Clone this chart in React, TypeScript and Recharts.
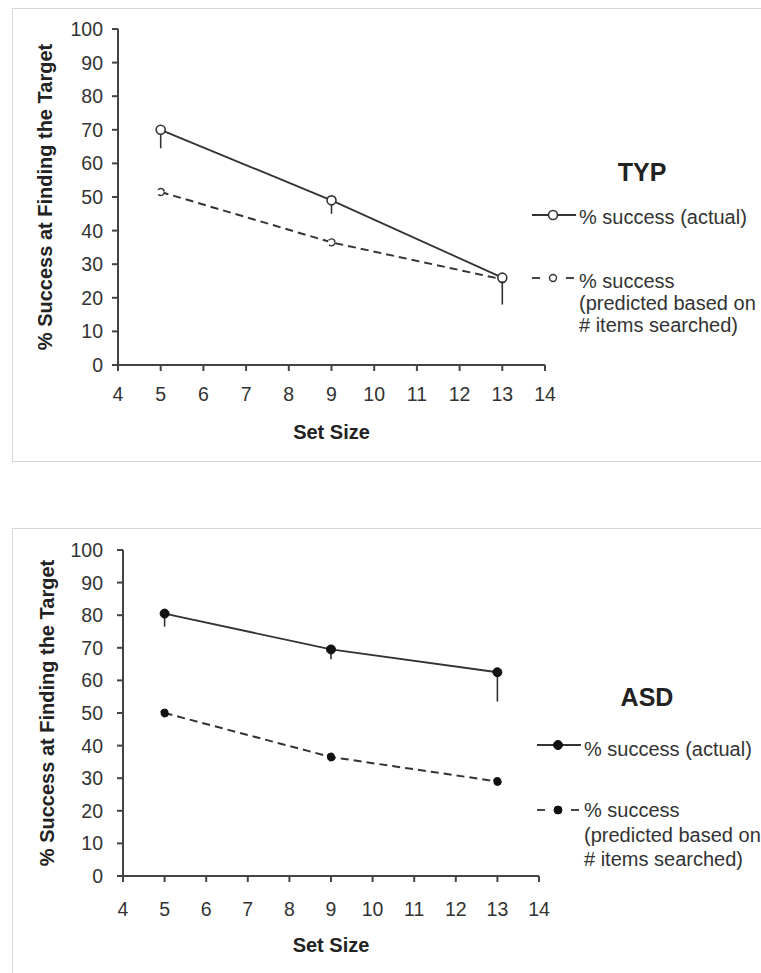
import React from "react";
import { LineChart, Line, XAxis, YAxis, ErrorBar, Legend, Label } from "recharts";

const setSizes = [5, 9, 13];
const xTicks = [4, 5, 6, 7, 8, 9, 10, 11, 12, 13, 14];
const yTicks = [0, 10, 20, 30, 40, 50, 60, 70, 80, 90, 100];

const typActual = [70, 49, 26];
const typActualErr = [5.5, 4, 8];
const typPredicted = [51.5, 36.5, 25.5];

const asdActual = [80.5, 69.5, 62.5];
const asdActualErr = [4, 3, 9];
const asdPredicted = [50, 36.5, 29];

const yLabel = "% Success at Finding the Target";
const xLabel = "Set Size";
const legendActual = "% success (actual)";
const legendPredicted = ["% success", "(predicted based on", "# items searched)"];

const INK = "#333";
const AXIS = "#444";

interface PanelLayout {
  boxTop: number;
  boxHeight: number;
  chartHeight: number;
  yAxisWidth: number;
  margin: { top: number; right: number; bottom: number; left: number };
  xTickMargin: number;
  yTickMargin: number;
  xLabelOffset: number;
  yLabelX: number;
  legendLeft: number;
  legendTop: number;
  legendRows: { line1: number; text1: number; line2: number; text2: number[] };
}

interface PanelProps {
  title: string;
  actual: number[];
  actualErr: number[];
  predicted: number[];
  filled: boolean;
  layout: PanelLayout;
}

const Panel = ({ title, actual, actualErr, predicted, filled, layout }: PanelProps) => {
  const data = setSizes.map((x, i) => ({
    x,
    actual: actual[i],
    actualErr: [actualErr[i], 0],
    predicted: predicted[i],
  }));

  const dotActual = filled
    ? { r: 4.5, fill: "#111", stroke: "#111", strokeWidth: 1 }
    : { r: 4.5, fill: "#fff", stroke: INK, strokeWidth: 1.6 };
  const dotPredicted = filled
    ? { r: 4, fill: "#111", stroke: "#111", strokeWidth: 1 }
    : { r: 3.5, fill: "#fff", stroke: INK, strokeWidth: 1.4 };

  const rows = layout.legendRows;

  const renderLegend = () => (
    <svg width={240} height={200} style={{ overflow: "visible" }}>
      <text x={114} y={31} textAnchor="middle" fontSize={25} fontWeight="bold" fill="#222">
        {title}
      </text>
      <line x1={4} x2={48} y1={rows.line1} y2={rows.line1} stroke={INK} strokeWidth={1.8} />
      <circle cx={25} cy={rows.line1} {...dotActual} />
      <text x={51} y={rows.text1} fontSize={20} fill={INK}>
        {legendActual}
      </text>
      <line x1={4} x2={12} y1={rows.line2} y2={rows.line2} stroke={INK} strokeWidth={1.8} />
      <line x1={38} x2={46} y1={rows.line2} y2={rows.line2} stroke={INK} strokeWidth={1.8} />
      <circle cx={25} cy={rows.line2} {...dotPredicted} />
      {legendPredicted.map((t, i) => (
        <text key={t} x={51} y={rows.text2[i]} fontSize={20} fill={INK}>
          {t}
        </text>
      ))}
    </svg>
  );

  const renderYLabel = (props: any) => {
    const vb = props.viewBox;
    const cy = vb.y + vb.height / 2;
    return (
      <text
        x={layout.yLabelX}
        y={cy}
        textAnchor="middle"
        fontSize={20}
        fontWeight="bold"
        fill="#222"
        transform={`rotate(-90, ${layout.yLabelX}, ${cy})`}
      >
        {yLabel}
      </text>
    );
  };

  const renderXLabel = (props: any) => {
    const vb = props.viewBox;
    return (
      <text
        x={vb.x + vb.width / 2}
        y={vb.y + layout.xLabelOffset}
        textAnchor="middle"
        fontSize={20}
        fontWeight="bold"
        fill="#222"
      >
        {xLabel}
      </text>
    );
  };

  return (
    <div
      style={{
        position: "absolute",
        left: 12,
        top: layout.boxTop,
        width: 800,
        height: layout.boxHeight,
        border: "1px solid #d6d6d6",
        background: "#fff",
      }}
    >
      <LineChart width={748} height={layout.chartHeight} data={data} margin={layout.margin}>
        <XAxis
          type="number"
          dataKey="x"
          domain={[4, 14]}
          ticks={xTicks}
          interval={0}
          height={60}
          stroke={AXIS}
          strokeWidth={2}
          tickSize={6}
          tickMargin={layout.xTickMargin}
          tick={{ fill: INK, fontSize: 19.5 }}
        >
          <Label content={renderXLabel} />
        </XAxis>
        <YAxis
          type="number"
          domain={[0, 100]}
          ticks={yTicks}
          interval={0}
          width={layout.yAxisWidth}
          stroke={AXIS}
          strokeWidth={2}
          tickSize={6}
          tickMargin={layout.yTickMargin}
          tick={{ fill: INK, fontSize: 19.5 }}
        >
          <Label content={renderYLabel} />
        </YAxis>
        <Legend
          layout="vertical"
          align="center"
          verticalAlign="middle"
          content={renderLegend}
          wrapperStyle={{ position: "absolute", left: layout.legendLeft, top: layout.legendTop, width: 240, height: 200 }}
        />
        <Line
          type="linear"
          dataKey="predicted"
          stroke={INK}
          strokeWidth={2}
          strokeDasharray="8 5"
          dot={dotPredicted}
          activeDot={false}
          isAnimationActive={false}
        />
        <Line
          type="linear"
          dataKey="actual"
          stroke={INK}
          strokeWidth={1.8}
          dot={dotActual}
          activeDot={false}
          isAnimationActive={false}
        >
          <ErrorBar dataKey="actualErr" direction="y" width={0} stroke={INK} strokeWidth={1.6} isAnimationActive={false} />
        </Line>
      </LineChart>
    </div>
  );
};

const topLayout: PanelLayout = {
  boxTop: 8,
  boxHeight: 452,
  chartHeight: 452,
  yAxisWidth: 105,
  margin: { top: 20, right: 216, bottom: 36, left: 0 },
  xTickMargin: 16,
  yTickMargin: 9,
  xLabelOffset: 74,
  yLabelX: 39,
  legendLeft: 515,
  legendTop: 141,
  legendRows: { line1: 65, text1: 74, line2: 128, text2: [138, 160, 182] },
};

const bottomLayout: PanelLayout = {
  boxTop: 528,
  boxHeight: 500,
  chartHeight: 444,
  yAxisWidth: 110,
  margin: { top: 21, right: 222, bottom: 37, left: 0 },
  xTickMargin: 20,
  yTickMargin: 14,
  xLabelOffset: 76,
  yLabelX: 41,
  legendLeft: 520,
  legendTop: 146,
  legendRows: { line1: 70, text1: 81, line2: 135, text2: [142, 167, 191] },
};

export default function App() {
  return (
    <div
      style={{
        position: "relative",
        width: 761,
        height: 973,
        overflow: "hidden",
        background: "#fff",
        fontFamily: "'Liberation Sans', Arial, Helvetica, sans-serif",
      }}
    >
      <style>{"body{margin:0;overflow:hidden;}"}</style>
      <Panel
        title="TYP"
        actual={typActual}
        actualErr={typActualErr}
        predicted={typPredicted}
        filled={false}
        layout={topLayout}
      />
      <Panel
        title="ASD"
        actual={asdActual}
        actualErr={asdActualErr}
        predicted={asdPredicted}
        filled={true}
        layout={bottomLayout}
      />
    </div>
  );
}
